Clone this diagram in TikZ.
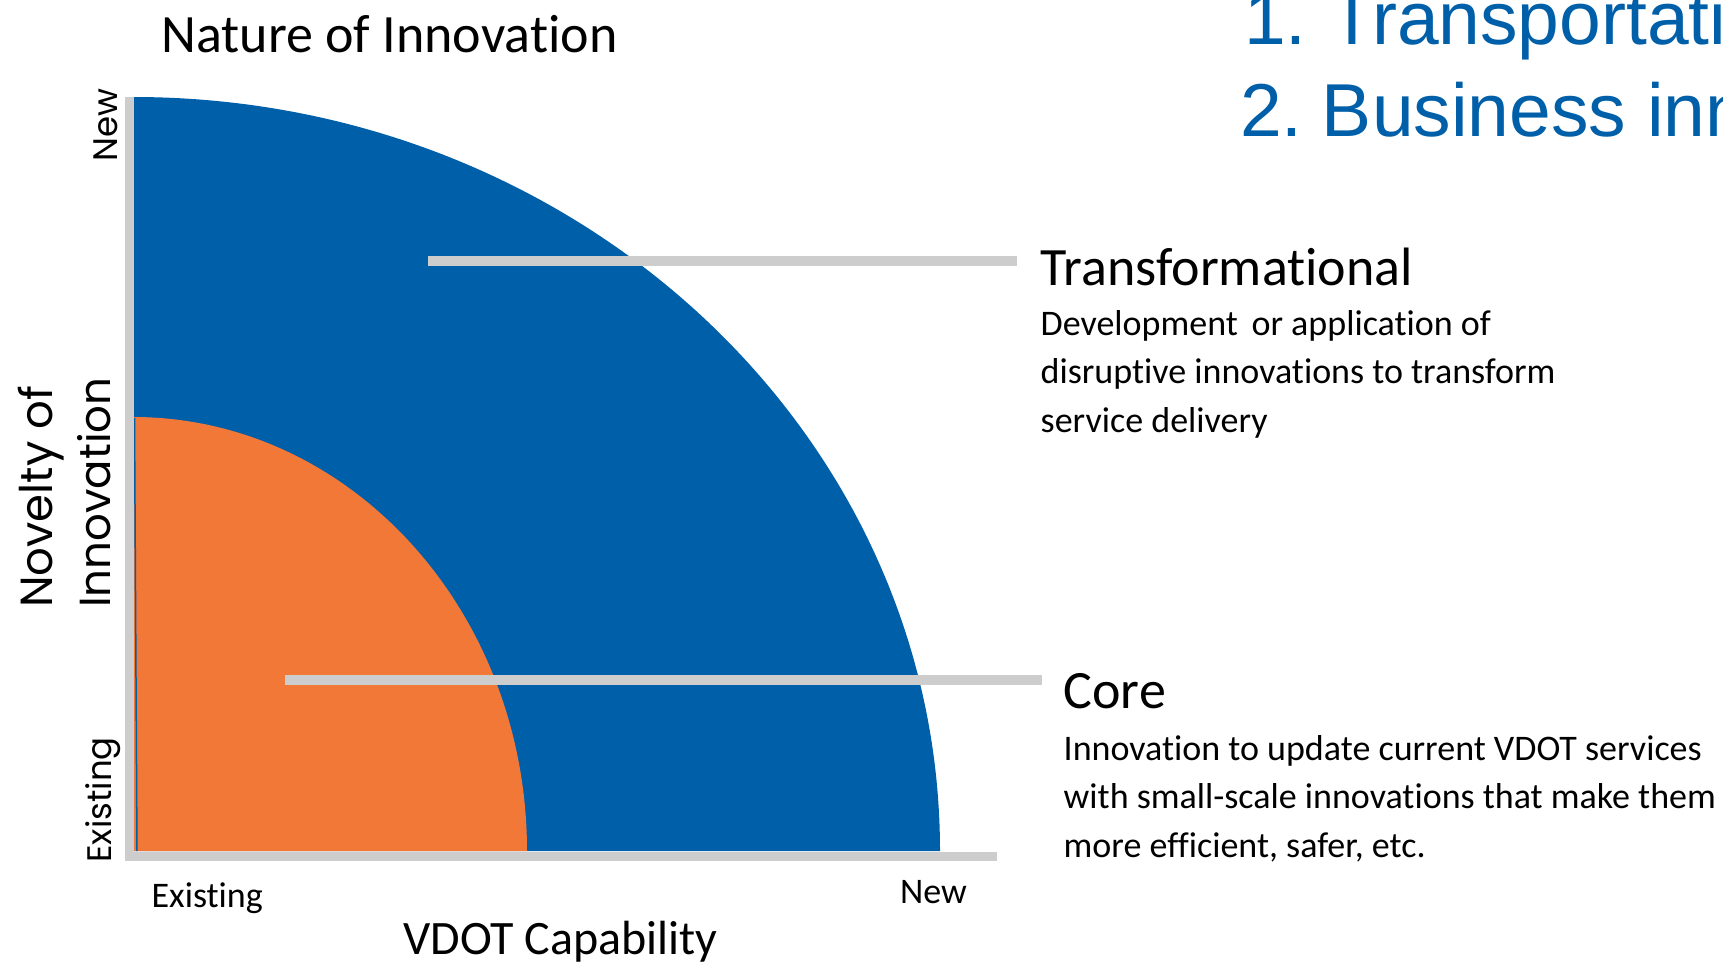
\documentclass[tikz,border=0pt]{standalone}
\usepackage{fontspec}
\setmainfont{Carlito}[Ligatures={NoCommon}]
\newfontfamily\arialf{Liberation Sans}
\newfontfamily\gothic{Poppins}
\definecolor{vblue}{RGB}{0,95,169}
\definecolor{vorange}{RGB}{242,120,56}
\definecolor{vgray}{RGB}{205,205,205}
\begin{document}
\begin{tikzpicture}[x=1pt,y=-1pt,
  lbl/.style={inner sep=0pt,outer sep=0pt,text=black},
  head/.style={lbl,font=\fontsize{54}{60}\selectfont},
  desc/.style={lbl,font=\fontsize{36}{40}\selectfont},
  axlab/.style={lbl,font=\fontsize{36}{40}\selectfont},
  vlab/.style={lbl,font=\gothic\fontsize{45}{50}\selectfont,rotate=90},
  vsmall/.style={lbl,font=\gothic\fontsize{34}{38}\selectfont,rotate=90},
  bluetxt/.style={lbl,text=vblue,font=\arialf\fontsize{75}{85}\selectfont},
  leader/.style={draw=vgray,line width=10pt},
  axisline/.style={draw=vgray,line width=9pt}
]
\useasboundingbox (0,0) rectangle (1723,963);
\clip (0,0) rectangle (1723,963);
\fill[white] (0,0) rectangle (1723,963);

% regions
\fill[vblue] (133,851) -- (940,851) arc[start angle=0,end angle=-90,x radius=807,y radius=754] -- cycle;
\fill[vorange] (133,851) -- (527,851) arc[start angle=0,end angle=-90,x radius=394,y radius=434] -- cycle;
\coordinate (slA) at (134.5,418);
\coordinate (slB) at (137,851);
\draw[vblue,line width=1.5pt] (slA) -- (slB);

% axes
\coordinate (ytop) at (129,97);
\coordinate (ybot) at (129,861);
\coordinate (xbeg) at (125,856);
\coordinate (xend) at (997,856);
\draw[axisline] (ytop) -- (ybot);
\draw[axisline] (xbeg) -- (xend);

% leader lines
\coordinate (ta) at (428,261);
\coordinate (tb) at (1017,261);
\coordinate (ca) at (285,680);
\coordinate (cb) at (1042,680);
\draw[leader] (ta) -- (tb);
\draw[leader] (ca) -- (cb);

% title
\node[head,anchor=base west] (title) at (161.5,52.5) {Nature of Innovation};

% blue text top right
\node[bluetxt,anchor=base west] (b1) at (1244,45) {1.\hspace{0.3em}Transportati};
\node[bluetxt,anchor=base west] (b2) at (1240,136) {2.\hspace{0.26em}Business inn};

% Transformational
\node[head,anchor=base west] (trans) at (1040.7,285.7) {Transformational};
\node[desc,anchor=base west] (tr1) at (1040.7,335.5) {Development\hspace{0.38em}or application of};
\node[desc,anchor=base west] (tr2) at (1040.7,383.8) {disruptive innovations to transform};
\node[desc,anchor=base west] (tr3) at (1040.7,432.1) {service delivery};

% Core
\node[head,anchor=base west] (core) at (1063.7,708.8) {Core};
\node[desc,anchor=base west] (co1) at (1063.7,760.4) {Innovation to update current VDOT services};
\node[desc,anchor=base west] (co2) at (1063.7,808.7) {with small-scale innovations that make them};
\node[desc,anchor=base west] (co3) at (1063.7,857.0) {more efficient, safer, etc.};

% x axis labels
\node[axlab,anchor=base west] (xex) at (151.6,907.5) {Existing};
\node[axlab,anchor=base west] (xnew) at (900,903) {New};
\node[lbl,anchor=base west,font=\fontsize{48}{52}\selectfont] (xcap) at (403.3,954) {VDOT Capability};

% y axis labels
\node[vsmall,anchor=base west] (ynew) at (117.5,161.5) {New};
\node[vsmall,anchor=base west] (yex) at (111,862.5) {Existing};
\node[vlab,anchor=base west] (ynov) at (52.7,607.7) {Novelty of};
\node[vlab,anchor=base west,font=\gothic\fontsize{43.5}{50}\selectfont] (yinn) at (110,607.7) {Innovation};
\end{tikzpicture}
\end{document}
